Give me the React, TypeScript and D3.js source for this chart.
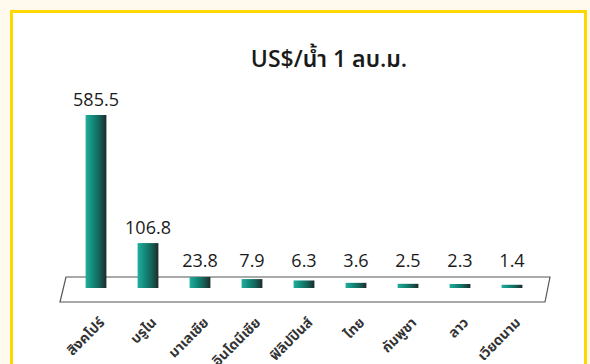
import React from "react";
import * as d3 from "d3";

const categories = ["สิงคโปร์", "บรูไน", "มาเลเซีย", "อินโดนีเซีย", "ฟิลิปปินส์", "ไทย", "กัมพูชา", "ลาว", "เวียดนาม"];
const values = [585.5, 106.8, 23.8, 7.9, 6.3, 3.6, 2.5, 2.3, 1.4];
const valueLabels = ["585.5", "106.8", "23.8", "7.9", "6.3", "3.6", "2.5", "2.3", "1.4"];
const title = "US$/น้ำ 1 ลบ.ม.";

const W = 590;
const H = 364;
const floorTop = 277;
const floorBottom = 302;
const barBase = 288;

export default function App() {
  const x = d3.scaleBand<string>().domain(categories).range([70, 538]).paddingInner(0.6).paddingOuter(0.3);
  // piecewise-linear height scale (the original chart's bars are not strictly proportional)
  const h = d3.scaleLinear().domain([0, 8, 24, 107, 585.5]).range([2, 9, 11, 45, 173]);
  const font = "'Open Sans', 'Noto Sans', 'Noto Sans Thai', Tahoma, sans-serif";
  const floorPts: [number, number][] = [
    [66, floorTop],
    [550, floorTop],
    [545, floorBottom],
    [60, floorBottom],
  ];
  return (
    <svg width={W} height={H} style={{ position: "absolute", left: 0, top: 0, display: "block" }}>
      <defs>
        <linearGradient id="barGrad" x1="0" x2="1" y1="0" y2="0">
          <stop offset="0%" stopColor="#22ad9c" />
          <stop offset="35%" stopColor="#128a7a" />
          <stop offset="70%" stopColor="#155e55" />
          <stop offset="100%" stopColor="#1d2a29" />
        </linearGradient>
      </defs>
      <rect x={0} y={0} width={W} height={H} fill="#fff9ee" />
      <rect x={11.5} y={11.5} width={574} height={H} fill="#ffffff" stroke="#ffd800" strokeWidth={3} />
      <text x={329} y={67} textAnchor="middle" fontFamily={font} fontSize={23} fontWeight={600} fill="#1a1a1a">
        {title}
      </text>
      <path d={(d3.line()(floorPts) || "") + "Z"} fill="#ffffff" stroke="#555" strokeWidth={1.2} />
      {categories.map((c, i) => {
        const bx = x(c)!;
        const bw = x.bandwidth();
        const bh = h(values[i]);
        const top = barBase - bh;
        const ly = Math.min(top - 9, 267);
        return (
          <g key={c}>
            <rect x={bx} y={top} width={bw} height={bh} fill="url(#barGrad)" />
            <text x={bx + bw / 2} y={ly} textAnchor="middle" fontFamily={font} fontSize={18} fontWeight={500} fill="#1a1a1a">
              {valueLabels[i]}
            </text>
            <text
              transform={`translate(${bx + bw / 2 + 2},${316}) rotate(-45)`}
              textAnchor="end"
              dy="0.75em"
              fontFamily={font}
              fontSize={14}
              fontWeight={700}
              fill="#333"
            >
              {c}
            </text>
          </g>
        );
      })}
    </svg>
  );
}
